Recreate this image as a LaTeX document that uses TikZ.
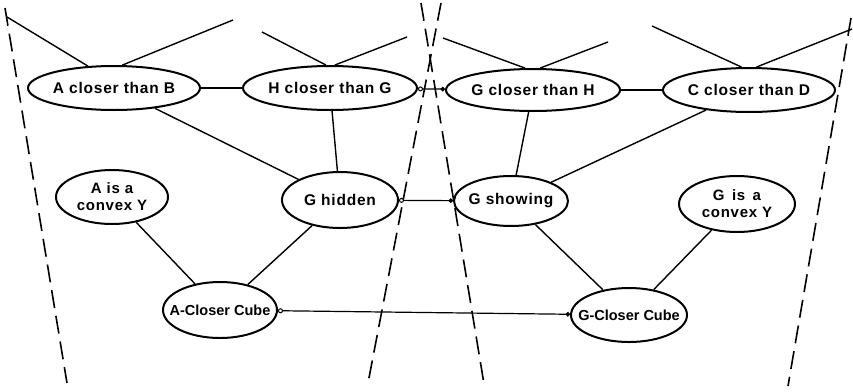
\documentclass[tikz,border=0pt]{standalone}
\usepackage{fontspec}
\setmainfont{Liberation Sans}
\usetikzlibrary{shapes.geometric,arrows.meta}
\newcommand{\evfont}[1]{\fontsize{#1}{#1}\selectfont\bfseries\addfontfeature{LetterSpace=5}}
\begin{document}
\begin{tikzpicture}[x=1pt,y=-1pt,
  ev/.style={draw,ellipse,line width=2pt,inner xsep=-45pt,inner ysep=-15pt,font=\evfont{15.5},align=center},
  link/.style={line width=1.4pt},
  cross/.style={line width=1.2pt,{Circle[open,length=5pt,width=5pt,line width=1pt]}-{Circle[length=4.5pt,width=4.5pt]}},
  bound/.style={line width=1.6pt,dash pattern=on 18pt off 8pt}]
\useasboundingbox (0,0) rectangle (853,391);
% boundaries
\draw[bound] (5,8) -- (67,383);
\draw[bound] (441,3) -- (368,383);
\draw[bound] (421,3) -- (484,384);
\draw[bound] (851,18) -- (788,386);
% nodes
\node[ev,minimum width=172pt,minimum height=44pt] (acb) at (114,88) {A closer than B};
\node[ev,minimum width=174pt,minimum height=44pt] (hcg) at (330,88) {H closer than G};
\node[ev,minimum width=174pt,minimum height=42pt] (gch) at (533,90) {G closer than H};
\node[ev,minimum width=172pt,minimum height=44pt] (ccd) at (749,90) {C closer than D};
\node[ev,minimum width=112pt,minimum height=54pt,font=\evfont{15},text depth=0pt] (acy) at (112,197) {A is a\\[2pt]convex Y};
\node[ev,minimum width=116pt,minimum height=56pt] (gh) at (340,200) {G hidden};
\node[ev,minimum width=114pt,minimum height=50pt] (gs) at (511,201) {G showing};
\node[ev,minimum width=116pt,minimum height=56pt,font=\evfont{15},text depth=0pt] (gcy) at (737,204) {G\, is\, a\\[2pt]convex Y};
\node[ev,minimum width=114pt,minimum height=56pt,font=\fontsize{14.5}{16}\selectfont\bfseries] (acc) at (220,310) {A-Closer Cube};
\node[ev,minimum width=116pt,minimum height=54pt,font=\fontsize{14.5}{16}\selectfont\bfseries] (gcc) at (629,315) {G-Closer Cube};
% free ends
\coordinate (t1) at (7,17);
\coordinate (t2) at (233,20);
\coordinate (t3) at (262,32);
\coordinate (t4) at (407,37);
\coordinate (t5) at (443,38);
\coordinate (t6) at (608,42);
\coordinate (t7) at (652,26);
\coordinate (t8) at (852,29);
\draw[link] (t1) -- (acb.140);
\draw[link] (t2) -- (acb.70);
\draw[link] (t3) -- (hcg.100);
\draw[link] (t4) -- (hcg.78);
\draw[link] (t5) -- (gch.110);
\draw[link] (t6) -- (gch.72);
\draw[link] (t7) -- (ccd.108);
\draw[link] (t8) -- (ccd.72);
% connectors
\draw[link] (acb) -- (hcg);
\draw[link] (gch) -- (ccd);
\draw[link] (acb) -- (gh);
\draw[link] (hcg) -- (gh);
\draw[link] (gch) -- (gs);
\draw[link] (ccd) -- (gs);
\draw[link] (acy) -- (acc);
\draw[link] (gh) -- (acc);
\draw[link] (gs) -- (gcc);
\draw[link] (gcy) -- (gcc);
\draw[cross] (hcg) -- (gch);
\draw[cross] (gh) -- (gs);
\draw[cross] (acc) -- (gcc);
\end{tikzpicture}
\end{document}
